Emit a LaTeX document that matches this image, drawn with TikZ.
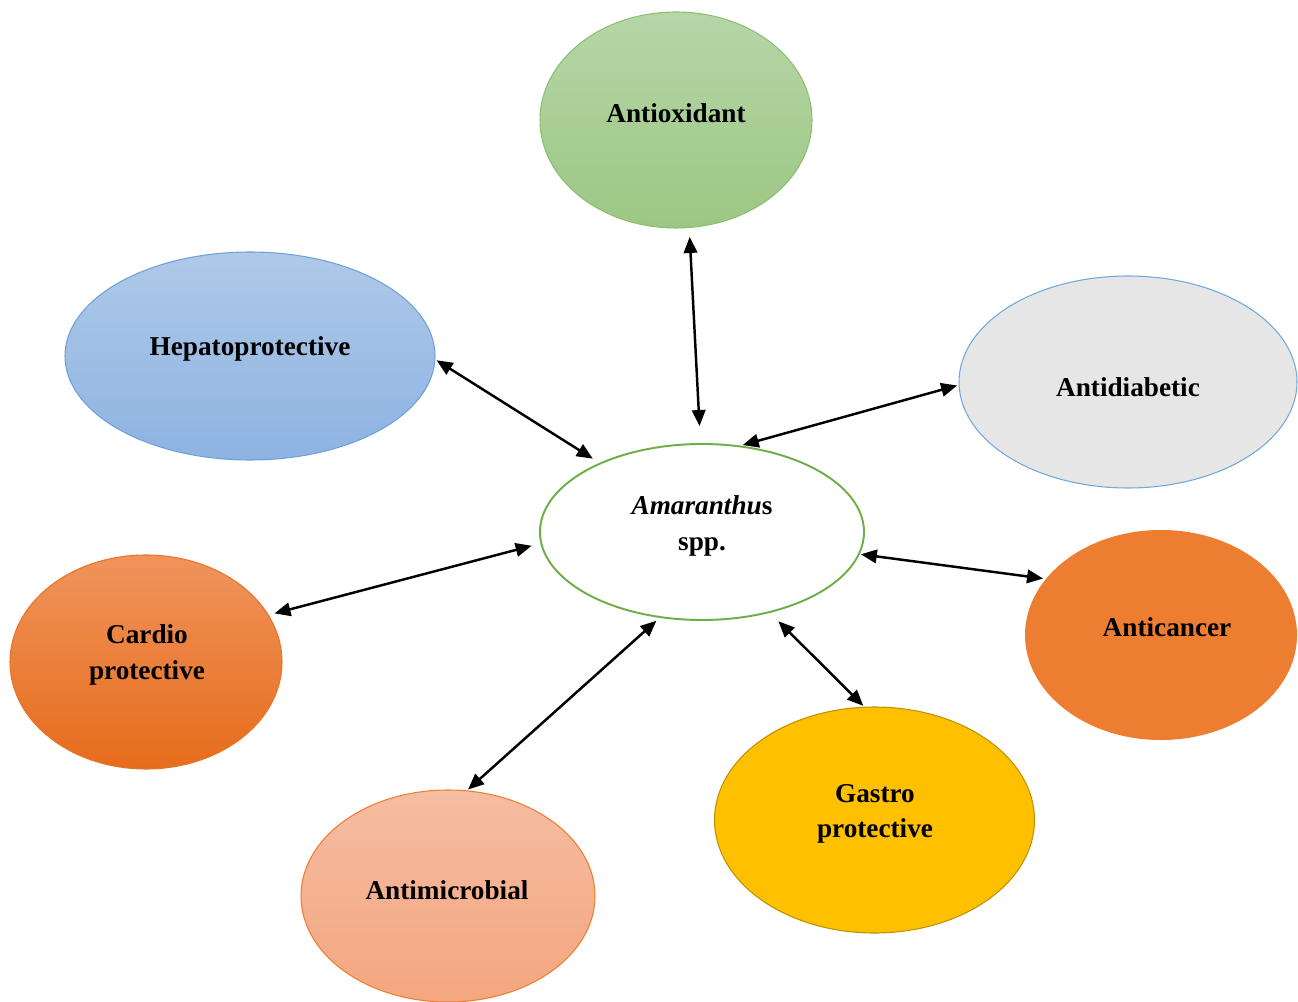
\documentclass[tikz,border=0pt]{standalone}
\usepackage{fontspec}
\setmainfont{Liberation Serif}
\usepackage{tikz}
\usetikzlibrary{arrows.meta,shapes.geometric}

\definecolor{oxtop}{HTML}{B6D6A8}
\definecolor{oxbot}{HTML}{9CC783}
\definecolor{oxline}{HTML}{8CBF72}
\definecolor{heptop}{HTML}{AFC9E8}
\definecolor{hepbot}{HTML}{8DB3E2}
\definecolor{hepline}{HTML}{6FA0DA}
\definecolor{diafill}{HTML}{E7E6E6}
\definecolor{dialine}{HTML}{6FA8DC}
\definecolor{amarline}{HTML}{70AD47}
\definecolor{cartop}{HTML}{F0945C}
\definecolor{carbot}{HTML}{E66C1B}
\definecolor{cancfill}{HTML}{ED7D31}
\definecolor{gasfill}{HTML}{FFC000}
\definecolor{gasline}{HTML}{BF9000}
\definecolor{mictop}{HTML}{F5BDA2}
\definecolor{micbot}{HTML}{F4A67F}

\begin{document}
\begin{tikzpicture}[x=0.2mm, y=-0.2mm, >={Triangle[length=3.2mm,width=2.7mm]},
  bubble/.style={ellipse, inner sep=0pt, outer sep=0pt, line width=0.6pt},
  tag/.style={align=center, font=\fontsize{15.5pt}{20pt}\selectfont\bfseries},
  link/.style={<->, line width=1.4pt, shorten <=0.4mm, shorten >=0.4mm}]
  \useasboundingbox (0,0) rectangle (1298,1002);

  % the effects round the plant
  \node[bubble, draw=oxline, top color=oxtop, bottom color=oxbot,
    minimum width=54.4mm, minimum height=43.2mm] (antiox) at (676,120) {};
  \node[bubble, draw=hepline, top color=heptop, bottom color=hepbot,
    minimum width=74mm, minimum height=41.6mm] (hep) at (250,356) {};
  \node[bubble, draw=dialine, fill=diafill,
    minimum width=67.6mm, minimum height=42.4mm] (antidiab) at (1128,382) {};
  \node[bubble, draw=amarline, fill=white, line width=1.1pt,
    minimum width=64.8mm, minimum height=35.2mm] (amar) at (702,532) {};
  \node[bubble, draw=carbot!80!cartop, top color=cartop, bottom color=carbot,
    minimum width=54.4mm, minimum height=42.8mm] (cardio) at (146,662) {};
  \node[bubble, fill=cancfill,
    minimum width=54.4mm, minimum height=42mm] (anticanc) at (1161,635) {};
  \node[bubble, draw=gasline, fill=gasfill,
    minimum width=64mm, minimum height=45.2mm] (gastro) at (874.5,820) {};
  \node[bubble, draw=cancfill, top color=mictop, bottom color=micbot,
    minimum width=58.8mm, minimum height=42.4mm] (antimicro) at (448,896) {};

  % texts
  \node[tag] (antiox-t) at (676,113) {Antioxidant};
  \node[tag] (hep-t) at (250,349) {Hepatoprotective};
  \node[tag] (antidiab-t) at (1128,387) {Antidiabetic};
  \node[tag] (amar-t) at (702,526) {\textit{Amaranthu}s\\spp.};
  \node[tag] (cardio-t) at (147,655) {Cardio\\protective};
  \node[tag] (anticanc-t) at (1167,627) {Anticancer};
  \node[tag] (gastro-t) at (875,814) {Gastro\\protective};
  \node[tag] (antimicro-t) at (447,890) {Antimicrobial};

  % links
  \draw[link, shorten <=1.9mm, shorten >=3.6mm] (antiox.-83) -- (amar.91);
  \draw[link, shorten >=1.8mm] (hep.-1.5) -- (amar.146);
  \draw[link, shorten >=0.9mm] (antidiab.-179.7) -- (amar.67);
  \draw[link, shorten <=1.3mm, shorten >=2mm] (cardio.21) -- (amar.-176);
  \draw[link, shorten <=0.6mm] (anticanc.154) -- (amar.-8.6);
  \draw[link, shorten >=1.1mm] (antimicro.80) -- (amar.-116);
  \draw[link, shorten >=2.6mm] (gastro.95) -- (amar.-50);
\end{tikzpicture}
\end{document}
